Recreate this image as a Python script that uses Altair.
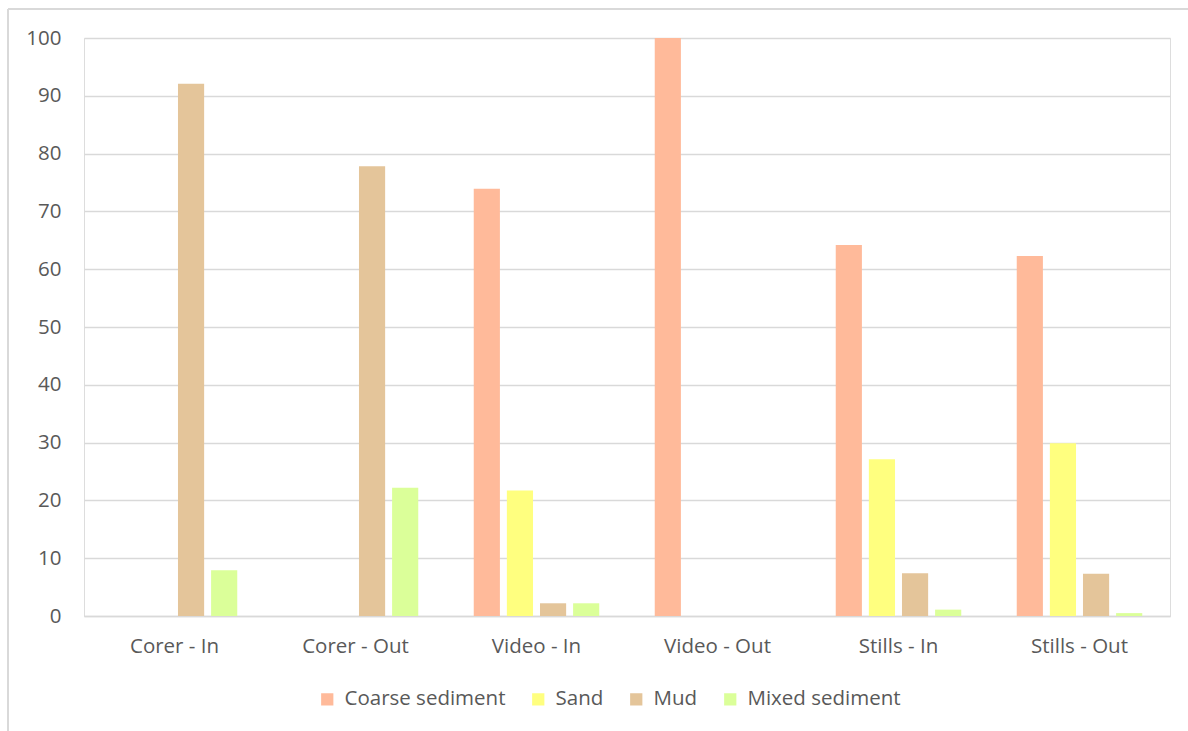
import altair as alt
import pandas as pd

# Sampling method / inside-outside groups
categories = ["Corer - In", "Corer - Out", "Video - In", "Video - Out", "Stills - In", "Stills - Out"]

# Percentage of each sediment class per group
coarse = [0, 0, 73.9, 100, 64.2, 62.3]
sand = [0, 0, 21.7, 0, 27.1, 29.9]
mud = [92.1, 77.8, 2.2, 0, 7.4, 7.3]
mixed = [7.9, 22.2, 2.2, 0, 1.1, 0.5]

series_names = ["Coarse sediment", "Sand", "Mud", "Mixed sediment"]
series_values = [coarse, sand, mud, mixed]
series_colors = ["#ffba9a", "#ffff7f", "#e4c59a", "#dbff99"]

y_ticks = list(range(0, 101, 10))

rows = []
for name, vals in zip(series_names, series_values):
    for cat, v in zip(categories, vals):
        rows.append({"Group": cat, "Sediment": name, "Percent": v})
df = pd.DataFrame(rows)

FONT = "Open Sans"
TEXT = "#595959"
GRID = "#d9d9d9"
FS = 20.5
W, H = 1086, 578

bars = alt.Chart(df).mark_bar().encode(
    x=alt.X(
        "Group:N",
        sort=categories,
        title=None,
        scale=alt.Scale(paddingInner=0.27, paddingOuter=0.135),
        axis=alt.Axis(
            labelAngle=0, labelFont=FONT, labelFontSize=FS, labelColor=TEXT,
            labelPadding=20, ticks=False, domainColor=GRID, domainWidth=1.5,
        ),
    ),
    xOffset=alt.XOffset(
        "Sediment:N", sort=series_names,
        scale=alt.Scale(paddingInner=0.21, paddingOuter=0.1),
    ),
    y=alt.Y(
        "Percent:Q",
        title=None,
        scale=alt.Scale(domain=[0, 100], nice=False),
        axis=alt.Axis(
            values=y_ticks, labelFont=FONT, labelFontSize=FS, labelColor=TEXT,
            labelPadding=23, ticks=False, domain=False,
            gridColor=GRID, gridWidth=1.5,
        ),
    ),
    color=alt.Color(
        "Sediment:N",
        sort=series_names,
        scale=alt.Scale(domain=series_names, range=series_colors),
        legend=alt.Legend(
            title=None, orient="none", direction="horizontal",
            legendX=233, legendY=651,
            symbolType="square", symbolSize=150, symbolStrokeWidth=0,
            symbolOpacity=1,
            labelFont=FONT, labelFontSize=FS, labelColor=TEXT,
            labelLimit=400, labelOffset=7, columnPadding=22,
        ),
    ),
)

# Outer frame lines of the chart area
frame_top = alt.Chart(df).mark_rule(color=GRID, strokeWidth=1.5).encode(
    x=alt.value(-76), x2=alt.value(1104), y=alt.value(-29)
)
frame_left = alt.Chart(df).mark_rule(color=GRID, strokeWidth=1.5).encode(
    x=alt.value(-76), y=alt.value(-29), y2=alt.value(693)
)

chart = alt.layer(bars, frame_top, frame_left).properties(
    width=W,
    height=H,
    autosize=alt.AutoSizeParams(type="none"),
    padding={"left": 84, "top": 38, "right": 18, "bottom": 115},
).configure_view(stroke=None).configure(background="white")

chart.save("out.html", embed_options={"renderer": "svg", "actions": False})
